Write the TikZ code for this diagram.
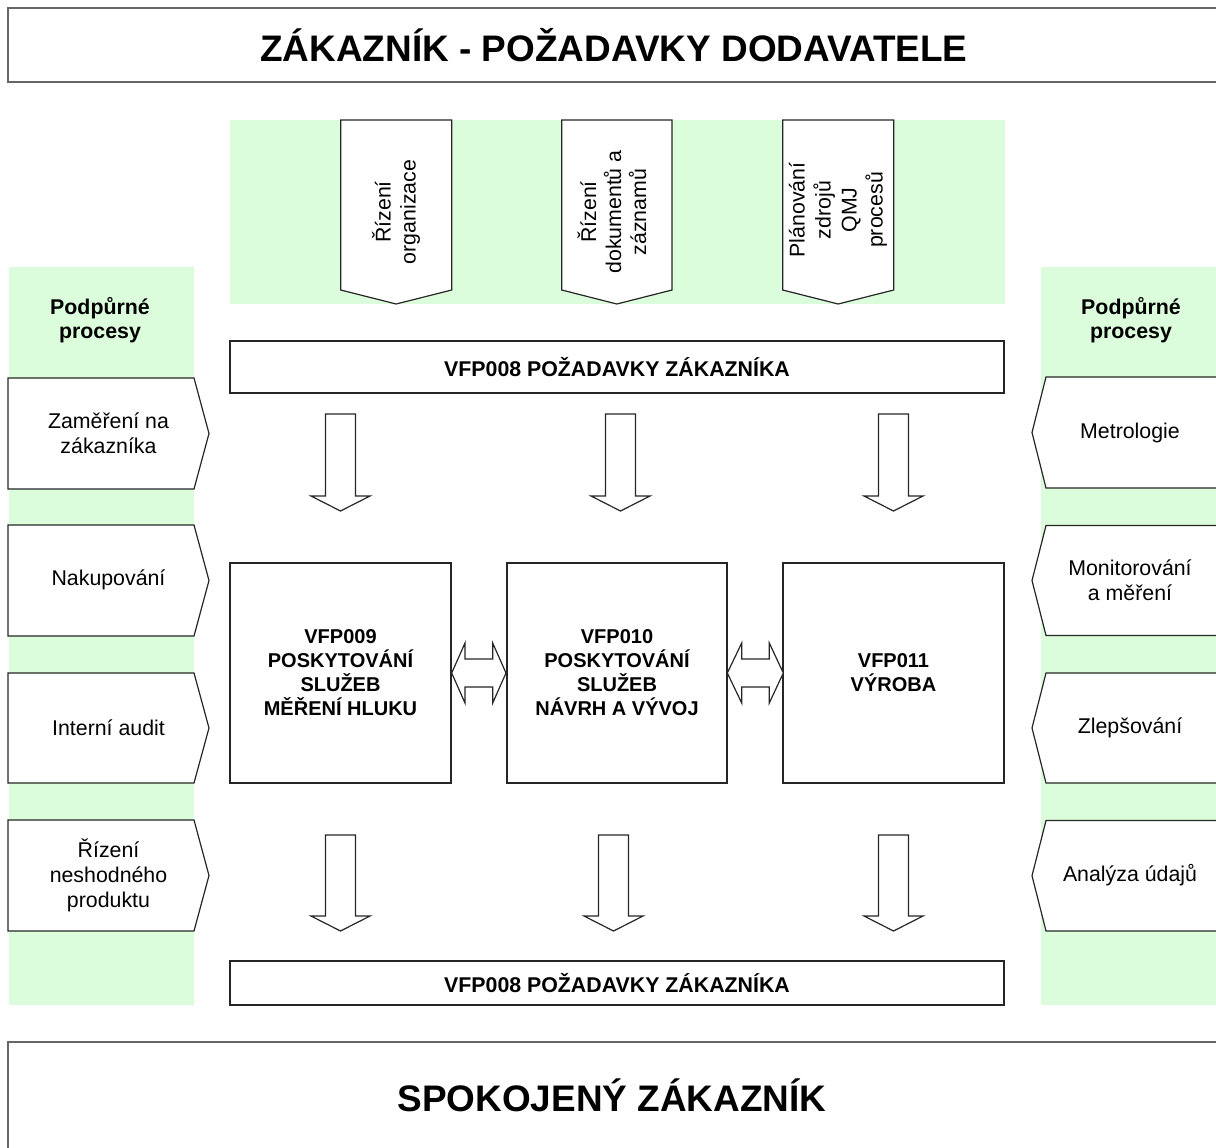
\documentclass[tikz,border=0pt]{standalone}
\usepackage{fontspec}
\setmainfont{Liberation Sans}
\definecolor{pg}{RGB}{220,253,220}
\newcommand{\bkdown}[4]{%
  \draw[shp] ({#1-15},#2) -- ({#1+15},#2) -- ({#1+15},#3) -- ({#1+29.5},#3) -- (#1,#4) -- ({#1-29.5},#3) -- ({#1-15},#3) -- cycle;}
\newcommand{\bkboth}[4]{%
  \draw[shp] (#1,673) -- (#2,643) -- (#2,659) -- (#3,659) -- (#3,643) -- (#4,673) -- (#3,703) -- (#3,687) -- (#2,687) -- (#2,703) -- cycle;}
\newcommand{\lpent}[2]{%
  \draw[shp] (8,#1) -- (194,#1) -- (209,{(#1+#2)/2}) -- (194,#2) -- (8,#2) -- cycle;}
\newcommand{\rpent}[2]{%
  \draw[shp] (1230,#1) -- (1046,#1) -- (1032,{(#1+#2)/2}) -- (1046,#2) -- (1230,#2);}
\newcommand{\tpent}[2]{%
  \draw[shp] (#1,120) -- (#2,120) -- (#2,290) -- ({(#1+#2)/2},304) -- (#1,290) -- cycle;}
\tikzset{
  shp/.style={draw=black!85, line width=0.9pt, fill=white},
  bigbox/.style={draw=black!60, line width=1.5pt, fill=white},
  txt/.style={inner sep=0pt, align=center, font=\fontsize{16}{18.75}\selectfont},
  btxt/.style={inner sep=0pt, align=center, font=\bfseries\fontsize{16}{18}\selectfont},
  ctxt/.style={inner sep=0pt, align=center, font=\bfseries\fontsize{15}{18}\selectfont},
  ttl/.style={inner sep=0pt, font=\bfseries\fontsize{27.7}{32}\selectfont},
  rtxt/.style={txt, rotate=90},
}
\begin{document}
\begin{tikzpicture}[x=0.75pt, y=-0.75pt]
\useasboundingbox (0,0) rectangle (1216,1147);
\clip (0,0) rectangle (1216,1147);
% green backgrounds
\fill[pg] (230,120) rectangle (1005,304);
\fill[pg] (9,267) rectangle (194,1005);
\fill[pg] (1041,267) rectangle (1230,1005);
% title boxes
\draw[bigbox] (8,8) rectangle (1230,82);
\draw[bigbox] (8,1042) rectangle (1230,1170);
\node[ttl] (title) at (614,45) {ZÁKAZNÍK - POŽADAVKY DODAVATELE};
\node[ttl] (spok) at (612,1095) {SPOKOJENÝ ZÁKAZNÍK};
% top pentagons
\tpent{340.7}{451.7}
\tpent{561.7}{672}
\tpent{782.7}{893.7}
\node[rtxt] (p1) at (396,212) {Řízení\\organizace};
\node[rtxt] (p2) at (612,212) {Řízení\\dokumentů a\\záznamů};
\node[rtxt, font=\fontsize{16}{19.5}\selectfont] (p3) at (838,210) {Plánování\\zdrojů\\QMJ\\procesů};
% bars
\draw[shp] (230,341) rectangle (1004,393);
\node[btxt] (bar1) at (617,367) {VFP008 POŽADAVKY ZÁKAZNÍKA};
\draw[shp] (230,961) rectangle (1004,1005);
\node[btxt] (bar2) at (617,983) {VFP008 POŽADAVKY ZÁKAZNÍKA};
% support headers
\node[btxt] (hl) at (100,320) {Podpůrné\\procesy};
\node[btxt] (hr) at (1131,320) {Podpůrné\\procesy};
% left pentagons
\lpent{378}{489}
\lpent{525}{636}
\lpent{673}{783}
\lpent{820}{931}
\node[txt] (l1) at (108.5,433) {Zaměření na\\zákazníka};
\node[txt] (l2) at (108.5,580) {Nakupování};
\node[txt] (l3) at (108.5,728) {Interní audit};
\node[txt] (l4) at (108.5,875) {Řízení\\neshodného\\produktu};
% right pentagons
\rpent{377}{488}
\rpent{525.5}{635.5}
\rpent{673}{783}
\rpent{820.5}{931}
\node[txt] (r1) at (1130,433) {Metrologie};
\node[txt] (r2) at (1130,580) {Monitorování\\a měření};
\node[txt] (r3) at (1130,728) {Zlepšování};
\node[txt] (r4) at (1130,875) {Analýza údajů};
% down arrows
\bkdown{340.5}{414}{496}{511}
\bkdown{620.5}{414}{496}{511}
\bkdown{893.5}{414}{496}{511}
\bkdown{340.5}{835}{916}{931}
\bkdown{613.5}{835}{916}{931}
\bkdown{893.5}{835}{916}{931}
% central boxes
\draw[shp] (230,563) rectangle (451,783);
\draw[shp] (507,563) rectangle (727,783);
\draw[shp] (783,563) rectangle (1004,783);
\node[ctxt] (c1) at (340.5,673) {VFP009\\POSKYTOVÁNÍ\\SLUŽEB\\MĚŘENÍ HLUKU};
\node[ctxt] (c2) at (617,673) {VFP010\\POSKYTOVÁNÍ\\SLUŽEB\\NÁVRH A VÝVOJ};
\node[ctxt] (c3) at (893.5,673) {VFP011\\VÝROBA};
% double arrows
\bkboth{451.7}{465}{492.7}{506}
\bkboth{727.3}{741.7}{769.3}{783.3}
\end{tikzpicture}
\end{document}
